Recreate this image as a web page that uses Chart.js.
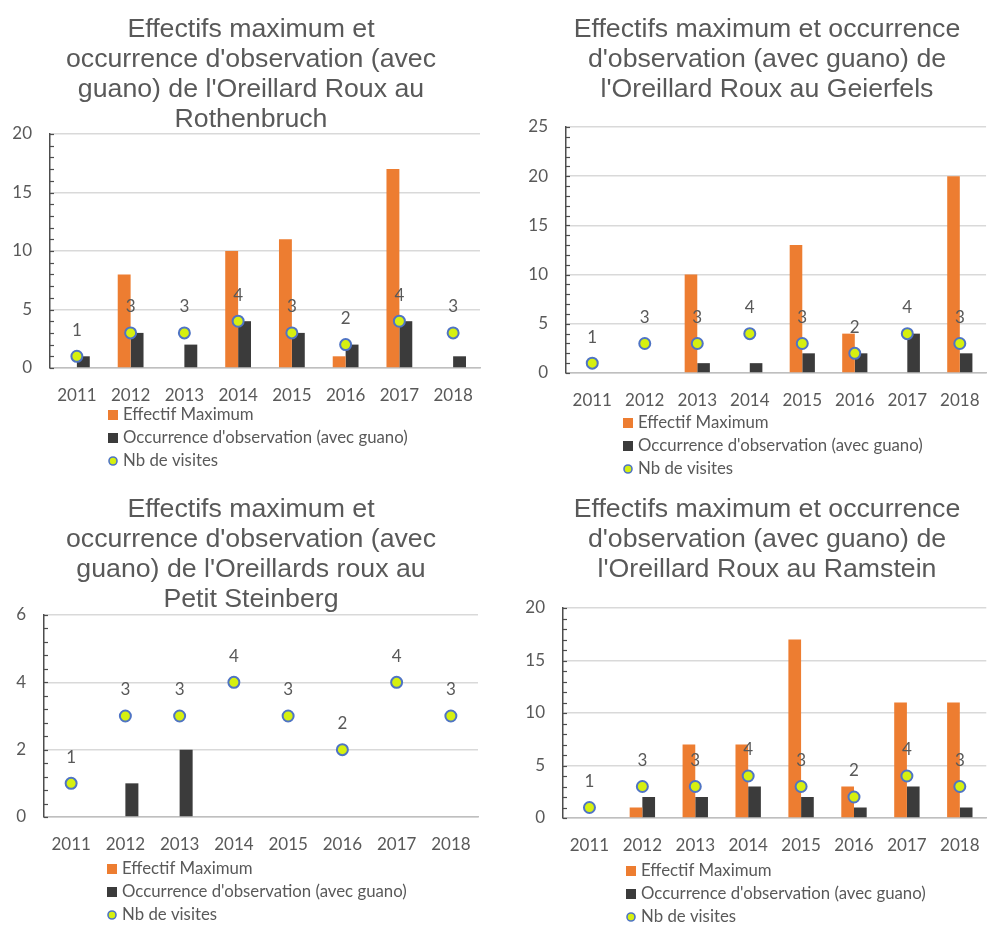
<!DOCTYPE html>
<html>
<head>
<meta charset="utf-8">
<script src="https://cdn.jsdelivr.net/npm/chart.js@4.4.1/dist/chart.umd.min.js"></script>
<style>
  html, body { margin: 0; padding: 0; background: #fff; }
  body { width: 997px; height: 926px; position: relative; overflow: hidden; }
  canvas { position: absolute; }
</style>
</head>
<body>
<canvas id="c1"></canvas>
<canvas id="c2"></canvas>
<canvas id="c3"></canvas>
<canvas id="c4"></canvas>
<script>
// ---- data ----
const years = ['2011', '2012', '2013', '2014', '2015', '2016', '2017', '2018'];
const seriesNames = ['Effectif Maximum', "Occurrence d'observation (avec guano)", 'Nb de visites'];

const rothenbruchMax    = [0, 8, 0, 10, 11, 1, 17, 0];
const rothenbruchOcc    = [1, 3, 2, 4, 3, 2, 4, 1];
const rothenbruchVisits = [1, 3, 3, 4, 3, 2, 4, 3];

const geierfelsMax    = [0, 0, 10, 0, 13, 4, 0, 20];
const geierfelsOcc    = [0, 0, 1, 1, 2, 2, 4, 2];
const geierfelsVisits = [1, 3, 3, 4, 3, 2, 4, 3];

const steinbergMax    = [0, 0, 0, 0, 0, 0, 0, 0];
const steinbergOcc    = [0, 1, 2, 0, 0, 0, 0, 0];
const steinbergVisits = [1, 3, 3, 4, 3, 2, 4, 3];

const ramsteinMax    = [0, 1, 7, 7, 17, 3, 11, 11];
const ramsteinOcc    = [0, 2, 2, 3, 2, 1, 3, 1];
const ramsteinVisits = [1, 3, 3, 4, 3, 2, 4, 3];

const titleRothenbruch = ['Effectifs maximum et', "occurrence d'observation (avec", "guano) de l'Oreillard Roux au", 'Rothenbruch'];
const titleGeierfels   = ['Effectifs maximum et occurrence', "d'observation (avec guano) de", "l'Oreillard Roux au Geierfels"];
const titleSteinberg   = ['Effectifs maximum et', "occurrence d'observation (avec", "guano) de l'Oreillards roux au", 'Petit Steinberg'];
const titleRamstein    = ['Effectifs maximum et occurrence', "d'observation (avec guano) de", "l'Oreillard Roux au Ramstein"];

// ---- styling ----
const TEXT = '#595959';
const AXIS = '#4d4d4d';
const GRID = '#d9d9d9';
const ORANGE = '#ed7d31';
const DARK = '#3b3b3b';
const DOT_FILL = '#d6f010';
const DOT_EDGE = '#4f74c4';
const TICK_FONT = 'Lato';
const TITLE_FONT = '"Liberation Sans", Arial, sans-serif';

// titles, legend, inner minor ticks and value labels above the visit dots
const panelDecor = {
  id: 'panelDecor',
  afterDatasetsDraw(chart, args, opts) {
    const ctx = chart.ctx;
    const meta = chart.getDatasetMeta(2);
    const ds = chart.data.datasets[2];
    ctx.save();
    ctx.font = '17px ' + TICK_FONT;
    ctx.fillStyle = TEXT;
    ctx.textAlign = 'center';
    ctx.textBaseline = 'middle';
    meta.data.forEach((pt, i) => {
      ctx.fillText(String(ds.data[i]), pt.x, pt.y - 26);
    });
    ctx.restore();
  },
  afterDraw(chart, args, opts) {
    const ctx = chart.ctx;
    const area = chart.chartArea;
    const y = chart.scales.y;
    ctx.save();

    // minor tick marks, drawn inward from the value axis
    ctx.strokeStyle = AXIS;
    ctx.lineWidth = 1.2;
    const n = Math.round(y.max / opts.minorStep);
    for (let i = 0; i <= n; i++) {
      const py = Math.round(y.getPixelForValue(i * opts.minorStep)) + 0.5;
      ctx.beginPath();
      ctx.moveTo(area.left, py);
      ctx.lineTo(area.left + 4, py);
      ctx.stroke();
    }

    // title
    ctx.font = '26.7px ' + TITLE_FONT;
    ctx.fillStyle = TEXT;
    ctx.textAlign = 'center';
    ctx.textBaseline = 'alphabetic';
    opts.title.forEach((line, i) => {
      ctx.fillText(line, opts.titleX, opts.titleBase + i * 30);
    });

    // legend, one entry per row
    ctx.font = '16.8px ' + TICK_FONT;
    ctx.textAlign = 'left';
    ctx.textBaseline = 'middle';
    chart.data.datasets.forEach((d, i) => {
      const cy = opts.legendY + i * 23;
      const x = opts.legendX;
      if (d.type === 'line') {
        ctx.beginPath();
        ctx.arc(x + 5, cy, 4, 0, Math.PI * 2);
        ctx.fillStyle = DOT_FILL;
        ctx.fill();
        ctx.lineWidth = 1.6;
        ctx.strokeStyle = DOT_EDGE;
        ctx.stroke();
      } else {
        ctx.fillStyle = d.backgroundColor;
        ctx.fillRect(x, cy - 5, 10, 10);
      }
      ctx.fillStyle = TEXT;
      ctx.fillText(d.label, x + 15, cy);
    });
    ctx.restore();
  }
};

function makePanel(id, box, area, yMax, yStep, minorStep, maxVals, occVals, visitVals, title, titleX, titleBase, legendX, legendY) {
  const cv = document.getElementById(id);
  cv.width = box.w; cv.height = box.h;
  cv.style.left = box.x + 'px'; cv.style.top = box.y + 'px';
  cv.style.width = box.w + 'px'; cv.style.height = box.h + 'px';

  const yAxisW = 40, xAxisH = 40;
  const pad = {
    left: area.L - box.x - yAxisW,
    right: box.x + box.w - area.R,
    top: area.T - box.y,
    bottom: box.y + box.h - area.B - xAxisH
  };

  return new Chart(cv, {
    type: 'bar',
    data: {
      labels: years,
      datasets: [
        { label: seriesNames[0], data: maxVals, backgroundColor: ORANGE, order: 1,
          categoryPercentage: 0.48, barPercentage: 1.0 },
        { label: seriesNames[1], data: occVals, backgroundColor: DARK, order: 2,
          categoryPercentage: 0.48, barPercentage: 1.0 },
        { type: 'line', label: seriesNames[2], data: visitVals, showLine: false, order: 0,
          pointRadius: 5.5, pointBorderWidth: 2,
          pointBackgroundColor: DOT_FILL, pointBorderColor: DOT_EDGE }
      ]
    },
    options: {
      responsive: false,
      animation: false,
      devicePixelRatio: 1,
      layout: { padding: pad },
      plugins: {
        legend: { display: false },
        title: { display: false },
        tooltip: { enabled: false },
        panelDecor: {
          minorStep: minorStep,
          title: title,
          titleX: titleX - box.x,
          titleBase: titleBase - box.y,
          legendX: legendX - box.x,
          legendY: legendY - box.y
        }
      },
      scales: {
        x: {
          grid: { display: false, drawTicks: false },
          border: { display: true, color: '#bfbfbf', width: 1.5 },
          ticks: { color: TEXT, font: { family: TICK_FONT, size: 17 }, padding: 17, maxRotation: 0 },
          afterFit(s) { s.height = xAxisH; }
        },
        y: {
          min: 0, max: yMax,
          grid: { color: GRID, lineWidth: 1.5, drawTicks: false },
          border: { display: true, color: AXIS, width: 1.5 },
          ticks: { stepSize: yStep, color: TEXT, font: { family: TICK_FONT, size: 17 }, padding: 18 },
          afterFit(s) { s.width = yAxisW; }
        }
      }
    },
    plugins: [panelDecor]
  });
}

makePanel('c1', { x: 0, y: 0, w: 498, h: 478 }, { L: 50, R: 480, T: 134, B: 368 },
  20, 5, 1, rothenbruchMax, rothenbruchOcc, rothenbruchVisits,
  titleRothenbruch, 251, 36.7, 108, 415);

makePanel('c2', { x: 498, y: 0, w: 499, h: 478 }, { L: 566, R: 997, T: 127, B: 373 },
  25, 5, 1, geierfelsMax, geierfelsOcc, geierfelsVisits,
  titleGeierfels, 767, 36.7, 623, 423);

makePanel('c3', { x: 0, y: 478, w: 498, h: 448 }, { L: 44, R: 478, T: 615, B: 817 },
  6, 2, 0.4, steinbergMax, steinbergOcc, steinbergVisits,
  titleSteinberg, 251, 516.7, 107, 869);

makePanel('c4', { x: 498, y: 478, w: 499, h: 448 }, { L: 563, R: 997, T: 608, B: 818 },
  20, 5, 1, ramsteinMax, ramsteinOcc, ramsteinVisits,
  titleRamstein, 767, 517, 626, 871);
</script>
</body>
</html>
